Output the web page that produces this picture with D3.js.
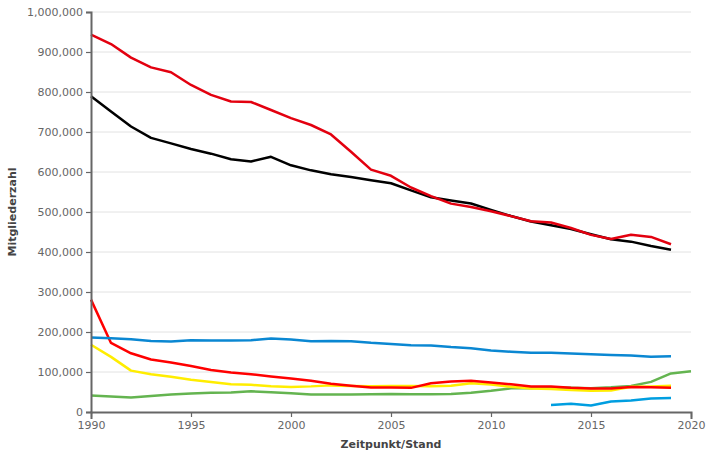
<!DOCTYPE html>
<html><head><meta charset="utf-8">
<script src="https://cdn.jsdelivr.net/npm/d3@7"></script>
<style>
body{margin:0;background:#fff;}
text{font-family:"DejaVu Sans",sans-serif;}
</style></head>
<body><svg id="c" width="712" height="456"></svg>
<script>
const years = d3.range(1990, 2020);
const spd = [943402,919871,885958,861480,849374,817650,792773,776183,775036,755066,734693,717513,693894,650798,605807,590485,561239,539861,520970,512520,502062,489638,477037,473662,459902,442814,432706,443152,437754,419340];
const cdu = [789609,751163,713846,685343,671497,657643,645852,631700,626342,638056,616722,604135,594391,587244,579526,571881,553896,536668,528972,521149,505314,489896,476347,467076,457488,444400,431920,425910,414905,405816];
const csu = [186198,184513,181757,177289,176250,179647,178457,178573,179520,183569,181021,177036,177667,176950,172897,170117,166928,166392,162232,159198,153890,150585,147965,148380,146536,144360,142412,140983,138354,139630];
const linke = [280882,172579,146742,131406,123751,114940,105029,98624,94627,88594,83475,77845,70805,65753,61385,61270,60338,71711,75968,78046,73658,69458,63761,63757,60551,58989,58910,62300,62016,60862];
const fdp = [168217,137853,103488,94197,87992,80431,75038,69621,67897,64407,62721,64063,66560,65192,64146,65022,64880,64078,65600,72116,68541,63123,58675,57263,55000,53197,53896,63050,63900,65479];
const gruene = [41316,38873,36320,39761,43899,46410,48034,48980,51812,49488,46631,44053,43881,44052,44322,45105,44677,44320,45089,48171,52991,59074,59653,61359,60329,59418,61596,65065,75311,96487,102000];
const gruenYears = d3.range(1990, 2021);
const afdYears = [2013,2014,2015,2016,2017,2018,2019];
const afd = [17687,20728,16385,26409,28990,33500,35100];
const yTicks = [0,100000,200000,300000,400000,500000,600000,700000,800000,900000,1000000];
const xTicks = [1990,1995,2000,2005,2010,2015,2020];

const series = [
  {yrs: gruenYears, vals: gruene, color: "#64b450"},
  {yrs: years, vals: fdp, color: "#ffed00"},
  {yrs: years, vals: linke, color: "#ff0000"},
  {yrs: years, vals: csu, color: "#0a87d2"},
  {yrs: afdYears, vals: afd, color: "#009ee0"},
  {yrs: years, vals: cdu, color: "#000000"},
  {yrs: years, vals: spd, color: "#e3000f"}
];

const svg = d3.select("#c");
const x = d3.scaleLinear().domain([1990, 2020]).range([91, 691]);
const y = d3.scaleLinear().domain([0, 1000000]).range([412, 12]);

// grid
svg.append("g").selectAll("line").data(yTicks.slice(1)).join("line")
  .attr("x1", 91).attr("x2", 691)
  .attr("y1", d => y(d)).attr("y2", d => y(d))
  .attr("stroke", "#e2e2e2").attr("stroke-width", 1);

const fmt = d3.format(",");
const line = d3.line().x(d => x(d[0])).y(d => y(d[1]));
svg.append("g").selectAll("path").data(series).join("path")
  .attr("d", s => line(s.yrs.map((yr, i) => [yr, s.vals[i]])))
  .attr("fill", "none").attr("stroke", s => s.color)
  .attr("stroke-width", 2.5).attr("stroke-linejoin", "round");

const yAxis = svg.append("g").attr("transform", "translate(91,0)")
  .call(d3.axisLeft(y).tickValues(yTicks).tickFormat(fmt).tickSize(5).tickSizeOuter(5).tickPadding(3));
const xAxis = svg.append("g").attr("transform", "translate(0,412)")
  .call(d3.axisBottom(x).tickValues(xTicks).tickFormat(d3.format("d")).tickSize(5).tickSizeOuter(7).tickPadding(4));
[yAxis, xAxis].forEach(a => {
  a.select(".domain").attr("stroke", "#666").attr("stroke-width", 2);
  a.selectAll(".tick line").attr("stroke", "#666").attr("stroke-width", 1.2);
  a.selectAll(".tick text").attr("fill", "#666").style("font-size", "11px").style("font-family", "DejaVu Sans");
});

svg.append("text").attr("transform", "translate(16,212) rotate(-90)")
  .attr("text-anchor", "middle").attr("fill", "#444")
  .style("font-size", "11px").style("font-weight", "bold").text("Mitgliederzahl");
svg.append("text").attr("x", 391).attr("y", 448)
  .attr("text-anchor", "middle").attr("fill", "#444")
  .style("font-size", "11px").style("font-weight", "bold").text("Zeitpunkt/Stand");
</script></body></html>
